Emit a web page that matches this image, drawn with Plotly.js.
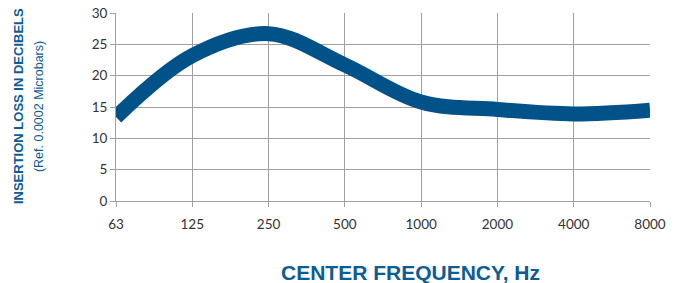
<!DOCTYPE html>
<html><head><meta charset="utf-8">
<script src="https://cdn.plot.ly/plotly-3.0.1.min.js"></script>
<style>html,body{margin:0;padding:0;background:#fff}#chart{width:678px;height:283px}</style>
</head><body><div id="chart"></div>
<script>
const frequencies = ["63","125","250","500","1000","2000","4000","8000"];
const insertionLoss = [13.4, 23.2, 26.7, 21.7, 15.8, 14.6, 13.9, 14.5];
const yTicks = [0,5,10,15,20,25,30];

const trace = {
  x: frequencies, y: insertionLoss, type: 'scatter', mode: 'lines',
  line: {color: '#02528a', width: 15, shape: 'spline', smoothing: 1},
  cliponaxis: false, hoverinfo: 'skip'
};
const tickFont = {family: 'Lato, "Open Sans", sans-serif', size: 13.5, color: '#333'};
const layout = {
  width: 678, height: 283,
  margin: {l: 116, r: 28, t: 13, b: 82},
  paper_bgcolor: '#fff', plot_bgcolor: '#fff',
  showlegend: false,
  xaxis: {type: 'category', range: [0, 7], showgrid: true, gridcolor: '#a0a0a0', gridwidth: 1,
    ticks: 'outside', ticklen: 5, tickcolor: '#a0a0a0', showline: true, linecolor: '#a0a0a0',
    ticklabelstandoff: 6, tickfont: tickFont, zeroline: false},
  yaxis: {range: [0, 30], tickvals: yTicks, showgrid: true, gridcolor: '#a0a0a0', gridwidth: 1,
    ticks: 'outside', ticklen: 5, tickcolor: '#a0a0a0', zeroline: false, showline: true, linecolor: '#a0a0a0',
    tickfont: tickFont},
  annotations: [
    {text: '<b>INSERTION LOSS IN DECIBELS</b>', xref: 'paper', yref: 'paper', x: -0.1835, y: 0.505,
     xanchor: 'center', yanchor: 'middle', textangle: -90, showarrow: false,
     font: {family: '"Liberation Sans Narrow", "Liberation Sans", Arial, sans-serif', size: 13, color: '#0c5c96'}},
    {text: '(Ref. 0.0002 Microbars)', xref: 'paper', yref: 'paper', x: -0.144, y: 0.5,
     xanchor: 'center', yanchor: 'middle', textangle: -90, showarrow: false,
     font: {family: '"Liberation Sans Narrow", "Liberation Sans", Arial, sans-serif', size: 12.5, color: '#0c5c96'}},
    {text: '<b>CENTER FREQUENCY, Hz</b>', xref: 'paper', yref: 'paper', x: 0.551, y: -0.378,
     xanchor: 'center', yanchor: 'middle', showarrow: false,
     font: {family: '"Liberation Sans", Arial, sans-serif', size: 21, color: '#0c5c96'}}
  ]
};
Plotly.newPlot('chart', [trace], layout, {staticPlot: true, displayModeBar: false});
</script></body></html>
